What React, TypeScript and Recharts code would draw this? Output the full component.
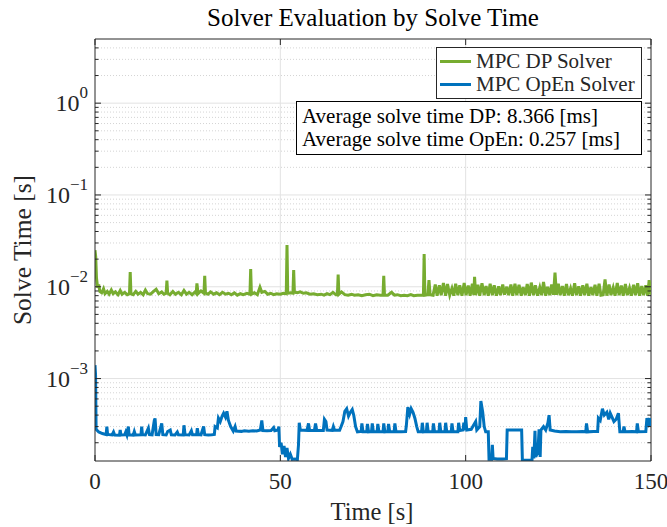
import React from "react";
import {
  LineChart,
  Line,
  XAxis,
  YAxis,
  CartesianGrid,
  Legend,
  ReferenceLine,
} from "recharts";

const FONT = '"Liberation Serif", "Times New Roman", serif';
const AXIS = "#262626";
const DP_COLOR = "#77AC30";
const OPEN_COLOR = "#0072BD";

// plot box in page pixels (matches chart margins below)
const PLOT = { left: 95, right: 651, top: 39, bottom: 461 };

const timeTicks = [0, 50, 100, 150];
const decadeTicks = [1e-3, 1e-2, 1e-1, 1];
const minorTicks = [
  2e-4, 3e-4, 4e-4, 5e-4, 6e-4, 7e-4, 8e-4, 9e-4,
  2e-3, 3e-3, 4e-3, 5e-3, 6e-3, 7e-3, 8e-3, 9e-3,
  0.02, 0.03, 0.04, 0.05, 0.06, 0.07, 0.08, 0.09,
  0.2, 0.3, 0.4, 0.5, 0.6, 0.7, 0.8, 0.9,
  2, 3, 4,
];
const yDomain = [1.265e-4, 5];

// [time s, solve time s]
const dpSamples: [number, number][] = [
  [0, 0.025], [0.2, 0.021], [0.4, 0.0125], [0.7, 0.0098], [1.0, 0.0106], [1.3, 0.0089],
  [1.8, 0.0086], [2.3, 0.0095], [2.7, 0.0084], [3.3, 0.0089], [3.8, 0.0083], [4.4, 0.0092],
  [4.9, 0.0084], [5.5, 0.0088], [6.2, 0.0082], [6.8, 0.0091], [7.3, 0.0083], [8.0, 0.0087],
  [8.7, 0.0082], [9.3, 0.0084], [9.5, 0.0145], [9.7, 0.0084], [10.3, 0.0082], [11.0, 0.0089],
  [11.6, 0.0083], [12.3, 0.0087], [13.0, 0.0082], [13.6, 0.0092], [14.2, 0.0084], [15.0, 0.0083],
  [15.8, 0.0089], [16.5, 0.0094], [17.2, 0.0084], [18.0, 0.0088], [18.6, 0.0083], [19.2, 0.0085],
  [19.4, 0.0117], [19.6, 0.0085], [20.2, 0.0082], [21.0, 0.0089], [21.7, 0.0083], [22.5, 0.0087],
  [23.3, 0.0082], [24.0, 0.0091], [24.7, 0.0083], [25.4, 0.0087], [26.2, 0.0082], [27.0, 0.0088],
  [27.3, 0.0085], [27.5, 0.0109], [27.8, 0.0084], [28.6, 0.009], [29.4, 0.0085], [29.6, 0.0132],
  [29.8, 0.0086], [30.5, 0.0083], [31.2, 0.0088], [32.0, 0.0083], [32.8, 0.0086], [33.6, 0.0082],
  [34.4, 0.0087], [35.2, 0.0083], [36.0, 0.0085], [36.8, 0.0082], [37.6, 0.0086], [38.4, 0.0081],
  [39.2, 0.0084], [40.0, 0.0082], [41.0, 0.0085], [41.8, 0.0083], [42.0, 0.0156], [42.2, 0.0083],
  [43.0, 0.0086], [43.8, 0.0082], [44.5, 0.0099], [45.0, 0.0087], [45.8, 0.0089], [46.6, 0.0083],
  [47.4, 0.0085], [48.2, 0.0082], [49.0, 0.0084], [50.0, 0.0083], [50.8, 0.0085], [51.6, 0.0084],
  [51.8, 0.0285], [52.0, 0.0085], [52.8, 0.0086], [53.4, 0.0085], [53.6, 0.0152], [53.8, 0.0087],
  [54.6, 0.0086], [55.4, 0.0088], [56.2, 0.0085], [57.0, 0.0086], [58.0, 0.0083], [59.0, 0.0084],
  [60.0, 0.0082], [61.0, 0.0083], [61.8, 0.0081], [62.6, 0.0084], [63.4, 0.0082], [64.2, 0.0087],
  [65.0, 0.0082], [65.4, 0.0082], [65.6, 0.0136], [65.8, 0.0083], [66.5, 0.0088], [67.4, 0.0082],
  [68.3, 0.0081], [69.2, 0.0083], [70.0, 0.0081], [71.0, 0.0082], [72.0, 0.008], [73.0, 0.0082],
  [74.0, 0.0083], [75.0, 0.008], [76.0, 0.0082], [77.0, 0.0081], [77.7, 0.0081], [77.9, 0.0132],
  [78.1, 0.0081], [79.0, 0.0081], [80.0, 0.0087], [80.8, 0.0081], [81.6, 0.0082], [82.5, 0.008],
  [83.4, 0.0081], [84.3, 0.008], [85.2, 0.0082], [86.0, 0.008], [87.0, 0.0081], [88.0, 0.0081],
  [88.6, 0.0081], [88.8, 0.0227], [89.0, 0.0081], [89.8, 0.0082], [90.1, 0.0118], [90.4, 0.0082],
  [91.2, 0.0081], [91.8, 0.0106], [92.3, 0.008], [92.9, 0.0104], [93.4, 0.0081], [94.0, 0.011],
  [94.6, 0.008], [95.1, 0.0107], [95.7, 0.0081], [96.3, 0.0096], [96.8, 0.008], [97.3, 0.0108],
  [97.9, 0.0081], [98.4, 0.0104], [99.0, 0.008], [99.6, 0.011], [100.1, 0.0081], [100.7, 0.0103],
  [101.2, 0.008], [101.8, 0.0108], [102.2, 0.0081], [102.4, 0.0128], [102.7, 0.0081], [103.3, 0.0105],
  [103.8, 0.008], [104.4, 0.0109], [105.0, 0.0081], [105.5, 0.0102], [106.1, 0.008], [106.6, 0.0108],
  [107.2, 0.0081], [107.7, 0.0104], [108.3, 0.008], [108.9, 0.0101], [109.4, 0.0081], [110.0, 0.0106],
  [110.5, 0.0082], [111.1, 0.01], [111.6, 0.0081], [112.2, 0.0106], [112.7, 0.008], [113.3, 0.0108],
  [113.8, 0.0081], [114.4, 0.0105], [115.0, 0.008], [115.5, 0.0099], [116.1, 0.0081], [116.6, 0.0107],
  [117.2, 0.008], [117.7, 0.0111], [118.3, 0.0081], [118.8, 0.0104], [119.4, 0.008], [120.0, 0.0098],
  [120.5, 0.0081], [121.0, 0.0113], [121.6, 0.008], [122.1, 0.01], [122.7, 0.0081], [123.2, 0.0106],
  [123.7, 0.0082], [124.1, 0.0143], [124.5, 0.0082], [125.0, 0.0108], [125.5, 0.0081], [126.1, 0.0102],
  [126.6, 0.008], [127.2, 0.0107], [127.7, 0.0081], [128.3, 0.0096], [128.8, 0.008], [129.4, 0.0109],
  [129.9, 0.0081], [130.5, 0.0101], [131.0, 0.008], [131.6, 0.0104], [132.1, 0.0081], [132.7, 0.0108],
  [133.2, 0.008], [133.8, 0.0099], [134.3, 0.0081], [134.9, 0.0105], [135.4, 0.008], [136.0, 0.0108],
  [136.5, 0.0081], [137.1, 0.0082], [137.6, 0.012], [138.1, 0.008], [138.7, 0.0106], [139.2, 0.0081],
  [139.8, 0.0098], [140.3, 0.008], [140.9, 0.011], [141.4, 0.0081], [142.0, 0.0103], [142.5, 0.008],
  [143.1, 0.0107], [143.6, 0.0081], [144.2, 0.0097], [144.7, 0.008], [145.3, 0.0105], [145.8, 0.0081],
  [146.4, 0.0109], [146.9, 0.008], [147.5, 0.0102], [148.0, 0.0081], [148.6, 0.0104], [149.1, 0.008],
  [149.5, 0.0118], [150, 0.0082],
];

const openSamples: [number, number][] = [
  [0, 0.0014], [0.15, 0.0011], [0.3, 0.00028], [1.0, 0.000262], [2.0, 0.000252], [3.0, 0.000245],
  [3.2, 0.0003], [3.4, 0.000246], [4.6, 0.000243], [5.0, 0.000262], [5.3, 0.000243], [6.6, 0.000242],
  [6.8, 0.000275], [7.0, 0.000243], [8.0, 0.000244], [8.3, 0.000262], [8.6, 0.000243], [9.0, 0.0003],
  [9.2, 0.000244], [10.3, 0.000242], [10.6, 0.000265], [10.9, 0.000243], [12.4, 0.000244], [12.6, 0.0003],
  [12.8, 0.000245], [13.6, 0.000243], [14.4, 0.000288], [14.7, 0.000245], [15.4, 0.000244], [16.0, 0.00035],
  [16.2, 0.000368], [16.5, 0.000246], [17.2, 0.000245], [18.0, 0.000325], [18.3, 0.000245], [19.2, 0.000243],
  [19.6, 0.000265], [20.3, 0.000275], [20.6, 0.000244], [21.6, 0.000243], [22.2, 0.000262], [22.5, 0.000244],
  [23.8, 0.000243], [24.0, 0.00031], [24.3, 0.000245], [25.4, 0.000243], [26.0, 0.00027], [26.3, 0.000244],
  [27.4, 0.000244], [27.6, 0.000288], [27.9, 0.000245], [28.6, 0.000244], [29.3, 0.0003], [29.6, 0.000245],
  [30.6, 0.000243], [31.5, 0.000244], [32.2, 0.000246], [32.4, 0.0003], [33.0, 0.00029], [33.3, 0.00037],
  [33.8, 0.00034], [34.3, 0.00039], [34.7, 0.00042], [35.2, 0.00038], [35.6, 0.00044], [36.0, 0.00035],
  [36.6, 0.0003], [37.3, 0.000268], [37.8, 0.0003], [38.1, 0.000268], [39.5, 0.000266], [40.3, 0.00027],
  [41.5, 0.000267], [42.6, 0.00027], [43.6, 0.000268], [44.6, 0.000275], [45.0, 0.00035], [45.3, 0.000272],
  [46.4, 0.00027], [47.5, 0.000272], [48.2, 0.000292], [48.5, 0.00027], [49.4, 0.000275], [49.6, 0.0003],
  [49.8, 0.00018], [50.2, 0.0002], [50.6, 0.00015], [51.0, 0.000185], [51.4, 0.00014], [51.8, 0.000175],
  [52.2, 0.000135], [52.7, 0.00015], [53.2, 0.000132], [54.0, 0.000133], [54.6, 0.000131], [54.9, 0.00019],
  [55.1, 0.00033], [55.4, 0.000275], [57.2, 0.000273], [57.6, 0.000325], [57.9, 0.000272], [59.2, 0.000273],
  [59.5, 0.000325], [59.8, 0.000274], [61.6, 0.000272], [61.9, 0.00036], [62.3, 0.00034], [62.6, 0.000275],
  [64.0, 0.000273], [64.3, 0.0003], [64.6, 0.000275], [66.0, 0.000274], [66.4, 0.0003], [66.9, 0.00034],
  [67.4, 0.00044], [67.9, 0.00047], [68.4, 0.00039], [68.9, 0.00043], [69.4, 0.00046], [69.8, 0.0004],
  [70.3, 0.0003], [70.8, 0.000262], [71.8, 0.000265], [72.0, 0.000325], [72.3, 0.000263], [73.3, 0.000263],
  [73.5, 0.00032], [73.8, 0.000263], [74.6, 0.000264], [74.8, 0.000325], [75.1, 0.000263], [76.1, 0.000263],
  [76.3, 0.00032], [76.6, 0.000264], [77.7, 0.000263], [77.9, 0.000325], [78.2, 0.000263], [79.0, 0.000264],
  [79.2, 0.00032], [79.5, 0.000263], [80.7, 0.000263], [80.9, 0.000325], [81.2, 0.000264], [82.6, 0.000263],
  [83.8, 0.000265], [84.0, 0.00031], [84.4, 0.00049], [84.9, 0.00041], [85.3, 0.00047], [85.8, 0.00043],
  [86.3, 0.00037], [86.8, 0.0003], [87.2, 0.000263], [88.1, 0.000263], [88.3, 0.00033], [88.6, 0.000263],
  [89.4, 0.000264], [89.6, 0.00033], [89.9, 0.000263], [91.1, 0.000263], [91.3, 0.000325], [91.6, 0.000264],
  [92.8, 0.000263], [93.0, 0.00033], [93.3, 0.000263], [94.4, 0.000264], [94.6, 0.00033], [94.9, 0.000263],
  [96.1, 0.000263], [96.3, 0.000325], [96.6, 0.000264], [97.9, 0.000263], [98.1, 0.00033], [98.4, 0.000272],
  [99.3, 0.000275], [99.5, 0.00033], [99.8, 0.000275], [100.0, 0.00038], [100.3, 0.000275], [101.5, 0.00028],
  [102.7, 0.00034], [103.0, 0.000275], [103.8, 0.0003], [104.1, 0.00057], [104.6, 0.00043], [105.0, 0.0003],
  [105.4, 0.000263], [106.1, 0.000263], [106.3, 0.000132], [107.0, 0.000132], [107.2, 0.00019], [107.4, 0.000135],
  [108.5, 0.000133], [110.0, 0.000133], [111.0, 0.000134], [111.2, 0.000275], [113.0, 0.000275], [115.1, 0.000275],
  [115.3, 0.00013], [117.0, 0.000129], [117.9, 0.00013], [118.1, 0.00018], [118.4, 0.000135], [118.7, 0.00027],
  [118.9, 0.00014], [119.5, 0.00016], [119.8, 0.00028], [120.1, 0.00014], [120.3, 0.000275], [121.0, 0.0003],
  [121.6, 0.000275], [122.2, 0.00033], [122.5, 0.0004], [122.8, 0.000275], [124.0, 0.000268], [125.5, 0.000263],
  [127.0, 0.000265], [128.5, 0.000263], [130.0, 0.000263], [131.5, 0.000265], [132.4, 0.000263], [132.6, 0.000325],
  [132.9, 0.000263], [134.5, 0.000265], [135.6, 0.000265], [135.8, 0.00037], [136.3, 0.00035], [136.9, 0.00047],
  [137.4, 0.0004], [138.1, 0.00043], [138.6, 0.00036], [139.0, 0.00042], [139.6, 0.00037], [140.0, 0.00034],
  [140.6, 0.00036], [141.2, 0.00042], [141.6, 0.000263], [142.5, 0.000263], [142.7, 0.0003], [143.0, 0.000263],
  [145.0, 0.000265], [146.1, 0.000263], [146.3, 0.000325], [146.6, 0.000263], [148.6, 0.000265], [148.9, 0.00037],
  [149.3, 0.00033], [149.6, 0.00037], [150, 0.0003],
];

const averageNotes = [
  "Average solve time DP: 8.366 [ms]",
  "Average solve time OpEn: 0.257 [ms]",
];

const dpData = dpSamples.map(([t, v]) => ({ t, v }));
const openData = openSamples.map(([t, v]) => ({ t, v }));
const yTicks = [...minorTicks, ...decadeTicks].sort((a, b) => a - b);

function YTick(props: any) {
  const { y, payload } = props;
  const v = payload.value;
  const major = decadeTicks.includes(v);
  const len = major ? 6 : 3.5;
  const exp = Math.round(Math.log10(v));
  return (
    <g>
      <line x1={PLOT.left} x2={PLOT.left + len} y1={y} y2={y} stroke={AXIS} />
      <line x1={PLOT.right} x2={PLOT.right - len} y1={y} y2={y} stroke={AXIS} />
      {major && (
        <text x={PLOT.left - 7} y={y + 8} textAnchor="end" fontFamily={FONT} fontSize={24} fill={AXIS}>
          10
          <tspan dy={-13} fontSize={17}>
            {exp < 0 ? `\u2212${-exp}` : `${exp}`}
          </tspan>
        </text>
      )}
    </g>
  );
}

function XTick(props: any) {
  const { x, payload } = props;
  return (
    <g>
      <line x1={x} x2={x} y1={PLOT.bottom} y2={PLOT.bottom - 6} stroke={AXIS} />
      <line x1={x} x2={x} y1={PLOT.top} y2={PLOT.top + 6} stroke={AXIS} />
      <text x={x} y={PLOT.bottom + 28} textAnchor="middle" fontFamily={FONT} fontSize={23} fill={AXIS}>
        {payload.value}
      </text>
    </g>
  );
}

function LegendBox(props: any) {
  const items = props.payload || [];
  return (
    <div
      style={{
        width: 206,
        height: 52,
        boxSizing: "border-box",
        border: `1px solid ${AXIS}`,
        background: "#fff",
        fontFamily: FONT,
        fontSize: 21,
        color: AXIS,
        padding: "2px 0 0 3px",
        lineHeight: "23px",
      }}
    >
      {items.map((it: any) => (
        <div key={it.value} style={{ display: "flex", alignItems: "center", height: 23 }}>
          <span style={{ width: 31, height: 3, background: it.color, marginRight: 5 }} />
          <span>{it.value}</span>
        </div>
      ))}
    </div>
  );
}

export default function App() {
  return (
    <div style={{ position: "absolute", left: 0, top: 0, width: 667, height: 527, background: "#fff" }}>
      <LineChart width={667} height={527} margin={{ top: 39, right: 16, bottom: 0, left: 0 }}>
        <CartesianGrid vertical={false} horizontalValues={minorTicks} stroke="#d4d4d4" strokeDasharray="1 2" />
        <CartesianGrid horizontalValues={decadeTicks} verticalValues={[50, 100]} stroke="#e2e2e2" />
        <XAxis
          type="number"
          dataKey="t"
          domain={[0, 150]}
          ticks={timeTicks}
          interval={0}
          allowDataOverflow
          height={66}
          stroke={AXIS}
          tickLine={false}
          tickSize={0}
          tickMargin={0}
          tick={(p: any) => <XTick {...p} />}
        />
        <YAxis
          type="number"
          scale="log"
          domain={yDomain}
          allowDataOverflow
          ticks={yTicks}
          interval={0}
          width={95}
          stroke={AXIS}
          tickLine={false}
          tickSize={0}
          tickMargin={0}
          tick={(p: any) => <YTick {...p} />}
        />
        <ReferenceLine y={yDomain[1]} stroke={AXIS} />
        <ReferenceLine x={150} stroke={AXIS} />
        <Line
          data={dpData}
          dataKey="v"
          name="MPC DP Solver"
          type="linear"
          stroke={DP_COLOR}
          strokeWidth={3}
          dot={false}
          activeDot={false}
          isAnimationActive={false}
        />
        <Line
          data={openData}
          dataKey="v"
          name="MPC OpEn Solver"
          type="linear"
          stroke={OPEN_COLOR}
          strokeWidth={3}
          dot={false}
          activeDot={false}
          isAnimationActive={false}
        />
        <Legend
          layout="horizontal"
          verticalAlign="middle"
          align="center"
          wrapperStyle={{ left: 436, top: 47, width: 206 }}
          content={(p: any) => <LegendBox {...p} />}
        />
      </LineChart>

      {/* title, axis labels and the annotation box */}
      <svg width={667} height={527} style={{ position: "absolute", left: 0, top: 0, pointerEvents: "none" }}>
        <text x={373} y={26} textAnchor="middle" fontFamily={FONT} fontSize={25} fill="#000">
          Solver Evaluation by Solve Time
        </text>
        <text x={372} y={520} textAnchor="middle" fontFamily={FONT} fontSize={24.5} fill={AXIS}>
          Time [s]
        </text>
        <text
          x={31}
          y={250}
          textAnchor="middle"
          transform="rotate(-90 31 250)"
          fontFamily={FONT}
          fontSize={25.5}
          fill={AXIS}
        >
          Solve Time [s]
        </text>
        <rect x={296.5} y={101.5} width={345} height={53} fill="#fff" stroke="#000" />
        {averageNotes.map((line, i) => (
          <text key={line} x={302} y={123 + i * 23} fontFamily={FONT} fontSize={21} fill="#000">
            {line}
          </text>
        ))}
      </svg>
    </div>
  );
}
